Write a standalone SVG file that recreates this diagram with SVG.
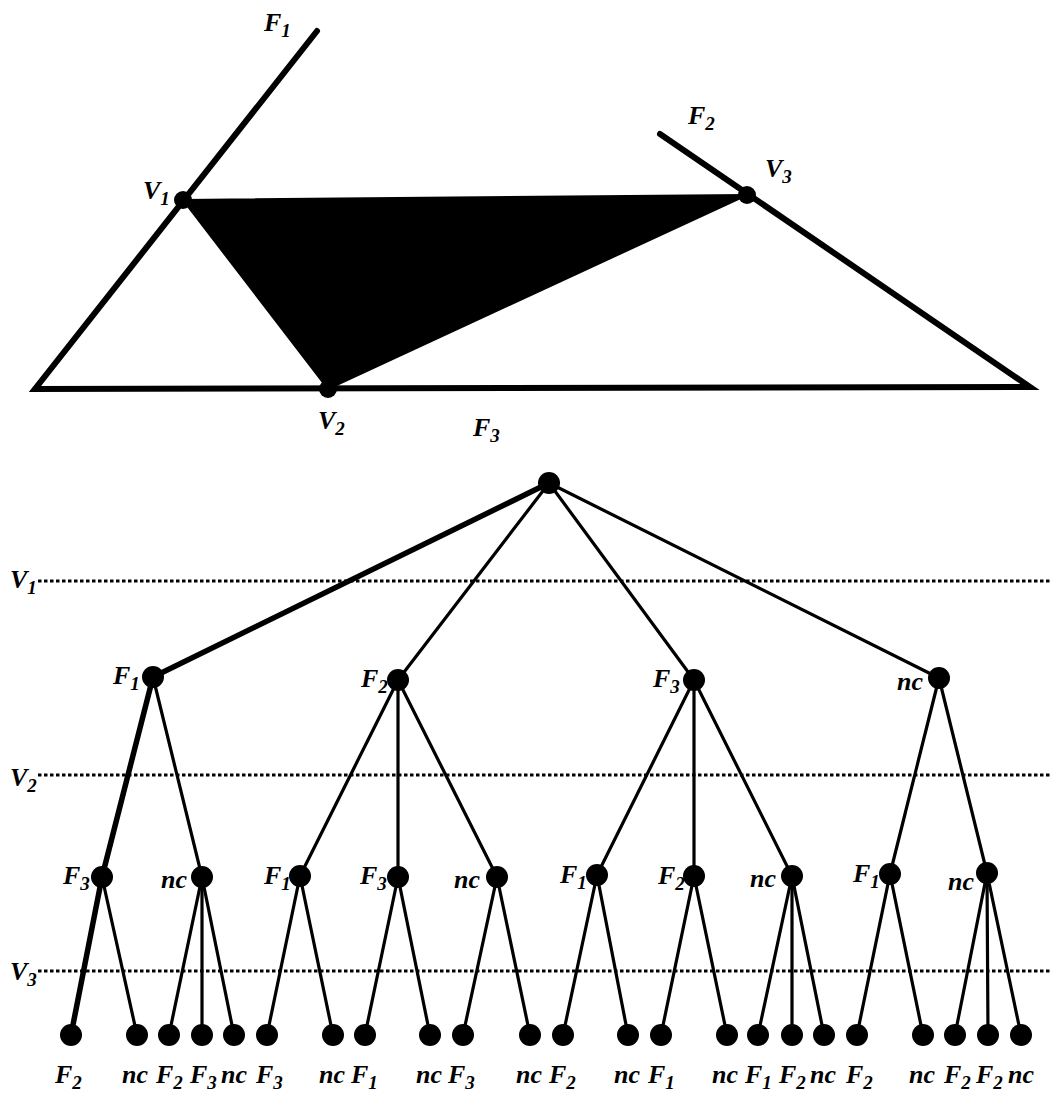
<svg xmlns="http://www.w3.org/2000/svg" width="1050" height="1095" viewBox="0 0 1050 1095">
<style>
text{font-family:"Liberation Serif","Times New Roman",serif;font-weight:bold;font-style:italic;font-size:26px;fill:#000}
.sub{font-size:19px}
.e{stroke:#000;stroke-width:3.2;fill:none;stroke-linecap:round}
.t{stroke:#000;stroke-width:5.5;fill:none;stroke-linecap:round}
.d{stroke:#000;stroke-width:3;stroke-dasharray:3.5 2.5;fill:none}
.n{fill:#000}
</style>
<rect width="1050" height="1095" fill="#fff"/>
<g id="top-figure">
<polygon points="183,200 747,195 328,389" fill="#000" stroke="#000" stroke-width="2"/>
<polyline points="317,31 35,389 1030,387 660,134" stroke="#000" stroke-width="6" fill="none" stroke-linecap="round" stroke-linejoin="miter"/>
<circle class="n" cx="183" cy="200" r="9"/>
<circle class="n" cx="747" cy="195" r="9"/>
<circle class="n" cx="328" cy="389" r="9"/>
<text x="264" y="31">F<tspan class="sub" dy="6">1</tspan></text>
<text x="143" y="199">V<tspan class="sub" dy="6">1</tspan></text>
<text x="688" y="124">F<tspan class="sub" dy="6">2</tspan></text>
<text x="765" y="177">V<tspan class="sub" dy="6">3</tspan></text>
<text x="318" y="429">V<tspan class="sub" dy="6">2</tspan></text>
<text x="473" y="436">F<tspan class="sub" dy="6">3</tspan></text>
</g>
<g id="levels">
<line class="d" x1="38" y1="581" x2="1050" y2="581"/>
<line class="d" x1="38" y1="775" x2="1050" y2="775"/>
<line class="d" x1="38" y1="971" x2="1050" y2="971"/>
<text x="10" y="588">V<tspan class="sub" dy="6">1</tspan></text>
<text x="10" y="786">V<tspan class="sub" dy="6">2</tspan></text>
<text x="10" y="980">V<tspan class="sub" dy="6">3</tspan></text>
</g>
<g id="connectors">
<line class="t" x1="549" y1="483" x2="153" y2="677"/>
<line class="e" x1="549" y1="483" x2="398" y2="680"/>
<line class="e" x1="549" y1="483" x2="694" y2="680"/>
<line class="e" x1="549" y1="483" x2="939" y2="678"/>
<line class="t" x1="153" y1="677" x2="102" y2="877"/>
<line class="e" x1="153" y1="677" x2="202" y2="877"/>
<line class="e" x1="398" y1="680" x2="300" y2="876"/>
<line class="e" x1="398" y1="680" x2="398" y2="877"/>
<line class="e" x1="398" y1="680" x2="497" y2="877"/>
<line class="e" x1="694" y1="680" x2="597" y2="875"/>
<line class="e" x1="694" y1="680" x2="694" y2="876"/>
<line class="e" x1="694" y1="680" x2="792" y2="876"/>
<line class="e" x1="939" y1="678" x2="890" y2="874"/>
<line class="e" x1="939" y1="678" x2="987" y2="873"/>
<line class="t" x1="102" y1="877" x2="71" y2="1035"/>
<line class="e" x1="102" y1="877" x2="137" y2="1035"/>
<line class="e" x1="202" y1="877" x2="169" y2="1035"/>
<line class="e" x1="202" y1="877" x2="202" y2="1035"/>
<line class="e" x1="202" y1="877" x2="234" y2="1035"/>
<line class="e" x1="300" y1="876" x2="267" y2="1035"/>
<line class="e" x1="300" y1="876" x2="333" y2="1035"/>
<line class="e" x1="398" y1="877" x2="365" y2="1035"/>
<line class="e" x1="398" y1="877" x2="430" y2="1035"/>
<line class="e" x1="497" y1="877" x2="463" y2="1035"/>
<line class="e" x1="497" y1="877" x2="530" y2="1035"/>
<line class="e" x1="597" y1="875" x2="563" y2="1035"/>
<line class="e" x1="597" y1="875" x2="628" y2="1035"/>
<line class="e" x1="694" y1="876" x2="661" y2="1035"/>
<line class="e" x1="694" y1="876" x2="727" y2="1035"/>
<line class="e" x1="792" y1="876" x2="758" y2="1035"/>
<line class="e" x1="792" y1="876" x2="792" y2="1035"/>
<line class="e" x1="792" y1="876" x2="824" y2="1035"/>
<line class="e" x1="890" y1="874" x2="857" y2="1035"/>
<line class="e" x1="890" y1="874" x2="923" y2="1035"/>
<line class="e" x1="987" y1="873" x2="955" y2="1035"/>
<line class="e" x1="987" y1="873" x2="988" y2="1035"/>
<line class="e" x1="987" y1="873" x2="1021" y2="1035"/>
</g>
<g id="root"><circle class="n" cx="549" cy="483" r="11"/></g>
<g id="n-F1"><circle class="n" cx="153" cy="677" r="11"/><text x="113" y="684">F<tspan class="sub" dy="6">1</tspan></text></g>
<g id="n-F2"><circle class="n" cx="398" cy="680" r="11"/><text x="361" y="687">F<tspan class="sub" dy="6">2</tspan></text></g>
<g id="n-F3"><circle class="n" cx="694" cy="680" r="11"/><text x="653" y="687">F<tspan class="sub" dy="6">3</tspan></text></g>
<g id="n-nc"><circle class="n" cx="939" cy="678" r="11"/><text x="897" y="690">nc</text></g>
<g id="n-F1-F3"><circle class="n" cx="102" cy="877" r="11"/><text x="63" y="884">F<tspan class="sub" dy="6">3</tspan></text></g>
<g id="n-F1-nc"><circle class="n" cx="202" cy="877" r="11"/><text x="161" y="888">nc</text></g>
<g id="n-F2-F1"><circle class="n" cx="300" cy="876" r="11"/><text x="264" y="884">F<tspan class="sub" dy="6">1</tspan></text></g>
<g id="n-F2-F3"><circle class="n" cx="398" cy="877" r="11"/><text x="360" y="884">F<tspan class="sub" dy="6">3</tspan></text></g>
<g id="n-F2-nc"><circle class="n" cx="497" cy="877" r="11"/><text x="454" y="888">nc</text></g>
<g id="n-F3-F1"><circle class="n" cx="597" cy="875" r="11"/><text x="560" y="883">F<tspan class="sub" dy="6">1</tspan></text></g>
<g id="n-F3-F2"><circle class="n" cx="694" cy="876" r="11"/><text x="658" y="884">F<tspan class="sub" dy="6">2</tspan></text></g>
<g id="n-F3-nc"><circle class="n" cx="792" cy="876" r="11"/><text x="750" y="887">nc</text></g>
<g id="n-nc-F1"><circle class="n" cx="890" cy="874" r="11"/><text x="853" y="882">F<tspan class="sub" dy="6">1</tspan></text></g>
<g id="n-nc-nc"><circle class="n" cx="987" cy="873" r="11"/><text x="948" y="890">nc</text></g>
<g id="l1"><circle class="n" cx="71" cy="1035" r="11"/><text x="55" y="1083">F<tspan class="sub" dy="6">2</tspan></text></g>
<g id="l2"><circle class="n" cx="137" cy="1035" r="11"/><text x="122" y="1083">nc</text></g>
<g id="l3"><circle class="n" cx="169" cy="1035" r="11"/><text x="156" y="1083">F<tspan class="sub" dy="6">2</tspan></text></g>
<g id="l4"><circle class="n" cx="202" cy="1035" r="11"/><text x="190" y="1083">F<tspan class="sub" dy="6">3</tspan></text></g>
<g id="l5"><circle class="n" cx="234" cy="1035" r="11"/><text x="221" y="1083">nc</text></g>
<g id="l6"><circle class="n" cx="267" cy="1035" r="11"/><text x="256" y="1083">F<tspan class="sub" dy="6">3</tspan></text></g>
<g id="l7"><circle class="n" cx="333" cy="1035" r="11"/><text x="319" y="1083">nc</text></g>
<g id="l8"><circle class="n" cx="365" cy="1035" r="11"/><text x="351" y="1083">F<tspan class="sub" dy="6">1</tspan></text></g>
<g id="l9"><circle class="n" cx="430" cy="1035" r="11"/><text x="416" y="1083">nc</text></g>
<g id="l10"><circle class="n" cx="463" cy="1035" r="11"/><text x="448" y="1083">F<tspan class="sub" dy="6">3</tspan></text></g>
<g id="l11"><circle class="n" cx="530" cy="1035" r="11"/><text x="516" y="1083">nc</text></g>
<g id="l12"><circle class="n" cx="563" cy="1035" r="11"/><text x="549" y="1083">F<tspan class="sub" dy="6">2</tspan></text></g>
<g id="l13"><circle class="n" cx="628" cy="1035" r="11"/><text x="614" y="1083">nc</text></g>
<g id="l14"><circle class="n" cx="661" cy="1035" r="11"/><text x="648" y="1083">F<tspan class="sub" dy="6">1</tspan></text></g>
<g id="l15"><circle class="n" cx="727" cy="1035" r="11"/><text x="712" y="1083">nc</text></g>
<g id="l16"><circle class="n" cx="758" cy="1035" r="11"/><text x="745" y="1083">F<tspan class="sub" dy="6">1</tspan></text></g>
<g id="l17"><circle class="n" cx="792" cy="1035" r="11"/><text x="779" y="1083">F<tspan class="sub" dy="6">2</tspan></text></g>
<g id="l18"><circle class="n" cx="824" cy="1035" r="11"/><text x="810" y="1083">nc</text></g>
<g id="l19"><circle class="n" cx="857" cy="1035" r="11"/><text x="846" y="1083">F<tspan class="sub" dy="6">2</tspan></text></g>
<g id="l20"><circle class="n" cx="923" cy="1035" r="11"/><text x="909" y="1083">nc</text></g>
<g id="l21"><circle class="n" cx="955" cy="1035" r="11"/><text x="944" y="1083">F<tspan class="sub" dy="6">2</tspan></text></g>
<g id="l22"><circle class="n" cx="988" cy="1035" r="11"/><text x="976" y="1083">F<tspan class="sub" dy="6">2</tspan></text></g>
<g id="l23"><circle class="n" cx="1021" cy="1035" r="11"/><text x="1008" y="1083">nc</text></g>
</svg>
